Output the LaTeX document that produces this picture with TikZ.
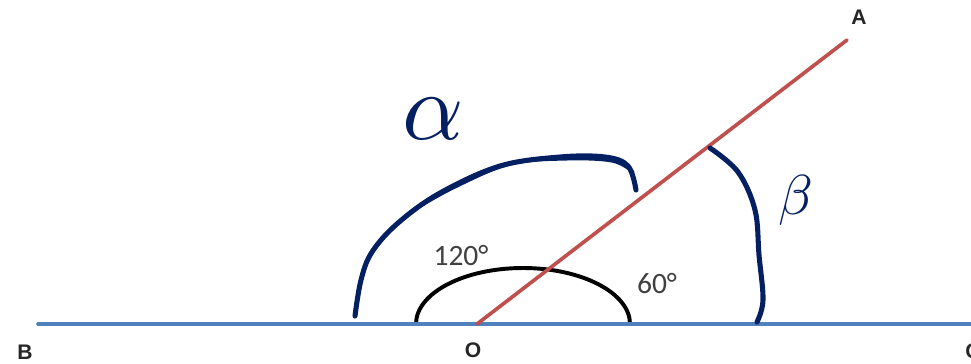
\documentclass[tikz,border=0pt]{standalone}
\usepackage{fontspec}
\setsansfont{Carlito}
\newfontfamily\labelfont{Liberation Sans}
\usetikzlibrary{positioning}

\definecolor{lineblue}{RGB}{79,129,189}
\definecolor{linered}{RGB}{192,80,77}
\definecolor{inkblue}{RGB}{4,32,98}
\definecolor{degreegray}{RGB}{64,64,64}

\begin{document}
\begin{tikzpicture}[
  x={(0.025cm,0)}, y={(0,-0.025cm)},
  ray/.style={line width=2.6pt, line cap=round},
  ink/.style={draw=inkblue, line width=3.6pt, line cap=round, line join=round},
  pointlabel/.style={font=\labelfont\bfseries\fontsize{15}{15}\selectfont, text=black!85, inner sep=0pt},
  degree/.style={font=\sffamily\fontsize{21}{21}\selectfont, text=degreegray, inner sep=0pt},
  greek/.style={text=inkblue, inner sep=0pt},
]
\useasboundingbox (0,0) rectangle (971,363);

% === Points ===
\coordinate (O) at (477,324);
\coordinate (A) at (847,40);
\coordinate (B) at (38,324);
\coordinate (C) at (975,324);

% === Angle mark (120 / 60) ===
\draw[line width=2.8pt] (416,324) arc[start angle=180, end angle=0, x radius=107, y radius=-56];

% === Lines ===
\draw[ray, draw=lineblue] (B) -- (C);
\draw[ray, draw=linered] (O) -- (A);

% === Labels ===
\node[pointlabel] (labA) at (859,17) {A};
\node[pointlabel] (labB) at (25,352) {B};
\node[pointlabel] (labO) at (473,350) {O};
\node[pointlabel] (labC) at (973,351) {C};
\node[degree] (deg120) at (461,256) {120°};
\node[degree] (deg60) at (657,284) {60°};

% === Handwritten angles ===
\draw[ink] plot[smooth, tension=0.6] coordinates {(355,316) (361,280) (372,252) (398,223) (440,193) (500,166) (560,157) (605,157) (628,166) (636,190)};
\draw[ink, line width=2.2pt] plot[smooth, tension=0.6] coordinates {(410,212) (455,187) (510,164) (565,159) (612,161) (633,172)};
\node[greek] (alpha) at (433,119) {\scalebox{6.8}{$\alpha$}};

\draw[ink] plot[smooth, tension=0.6] coordinates {(710,148) (738,172) (755,210) (759,255) (763,300) (757,322)};
\node[greek] (beta) at (796,200) {\scalebox{4}{$\beta$}};

\end{tikzpicture}
\end{document}
